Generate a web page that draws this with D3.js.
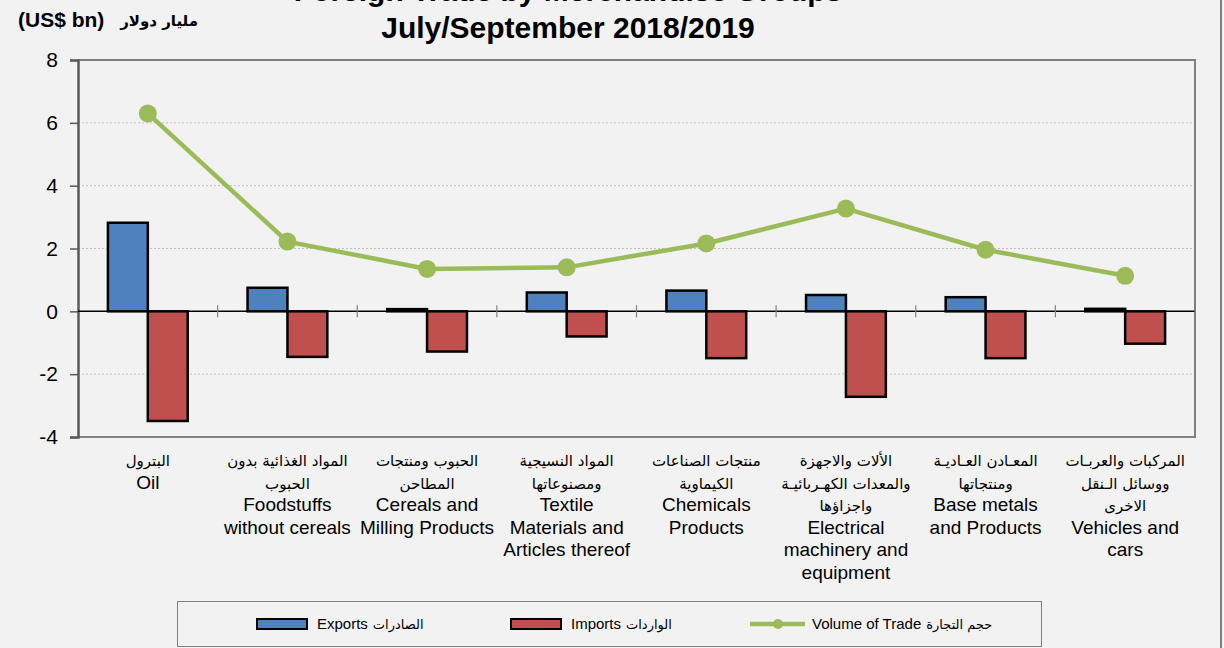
<!DOCTYPE html>
<html>
<head>
<meta charset="utf-8">
<script src="https://cdn.jsdelivr.net/npm/d3@7"></script>
<style>
  html, body { margin: 0; padding: 0; background: #f2f2f2; }
  svg { display: block; font-family: "Liberation Sans", Arial, "DejaVu Sans", sans-serif; }
</style>
</head>
<body>
<svg width="1224" height="648"></svg>
<script>
// data (US$ bn)
var categoriesAr = [
    ["البترول"],
    ["المواد الغذائية بدون", "الحبوب"],
    ["الحبوب ومنتجات", "المطاحن"],
    ["المواد النسيجية", "ومصنوعاتها"],
    ["منتجات الصناعات", "الكيماوية"],
    ["الألات والاجهزة", "والمعدات الكهـربائيـة", "واجزاؤها"],
    ["المعـادن العـاديـة", "ومنتجاتها"],
    ["المركبات والعربـات", "ووسائل الـنقل", "الاخرى"]
];
var categoriesEn = [
    ["Oil"],
    ["Foodstuffs", "without cereals"],
    ["Cereals and", "Milling Products"],
    ["Textile", "Materials and", "Articles thereof"],
    ["Chemicals", "Products"],
    ["Electrical", "machinery and", "equipment"],
    ["Base metals", "and Products"],
    ["Vehicles and", "cars"]
];
var exportsVals = [2.82, 0.75, 0.07, 0.60, 0.66, 0.52, 0.45, 0.08];
var importsVals = [-3.49, -1.45, -1.28, -0.80, -1.49, -2.72, -1.49, -1.03];
var tradeVals = [6.30, 2.22, 1.35, 1.40, 2.16, 3.27, 1.96, 1.13];
var yTicks = [-4, -2, 0, 2, 4, 6, 8];

var svg = d3.select("svg");
var plotL = 78, plotR = 1195, plotT = 60, plotB = 437;

var idx = d3.range(categoriesEn.length);
var x = d3.scaleBand().domain(idx).range([plotL, plotR]).padding(0);
var x1 = d3.scaleBand().domain(["exp", "imp"]).range([0, x.bandwidth()]).paddingInner(0).paddingOuter(0.75);
var y = d3.scaleLinear().domain([-4, 8]).range([plotB, plotT]);

// outer chart edge on the right
svg.append("line").attr("x1", 1221).attr("x2", 1221).attr("y1", 0).attr("y2", 648)
    .attr("stroke", "#7f7f7f").attr("stroke-width", 2);

// titles (first line is cut by the top edge, as in the original)
svg.append("text").attr("x", 568).attr("y", 1).attr("text-anchor", "middle")
    .style("font-weight", "bold").style("font-size", "30px").text("Foreign Trade by Merchandise Groups");
svg.append("text").attr("x", 568).attr("y", 38).attr("text-anchor", "middle")
    .style("font-weight", "bold").style("font-size", "30px").text("July/September 2018/2019");
svg.append("text").attr("x", 18).attr("y", 27)
    .style("font-weight", "bold").style("font-size", "21px").text("(US$ bn)");
svg.append("text").attr("x", 198).attr("y", 26).attr("text-anchor", "end")
    .style("font-weight", "bold").style("font-size", "15px")
    .style("font-family", "'DejaVu Sans', sans-serif").text("مليار دولار");

// grid lines
svg.append("g").selectAll("line")
    .data(yTicks.filter(function (d) { return d !== 0 && d !== 8 && d !== -4; }))
    .enter().append("line")
    .attr("x1", plotL).attr("x2", plotR)
    .attr("y1", function (d) { return y(d); }).attr("y2", function (d) { return y(d); })
    .attr("stroke", "#bfbfbf").attr("stroke-dasharray", "2,2").attr("stroke-width", 1);

// plot border top / right / bottom
svg.append("path")
    .attr("d", "M" + plotL + "," + plotT + "H" + plotR + "V" + plotB + "H" + plotL)
    .attr("fill", "none").attr("stroke", "#808080").attr("stroke-width", 2);

// y axis
var yAxis = svg.append("g").attr("transform", "translate(" + plotL + ",0)")
    .call(d3.axisLeft(y).tickValues(yTicks).tickSize(8).tickPadding(12)
        .tickFormat(function (d) { return String(d); }));
yAxis.select(".domain").attr("stroke", "#595959").attr("stroke-width", 2.5);
yAxis.selectAll(".tick line").attr("stroke", "#595959").attr("stroke-width", 1.5);
yAxis.selectAll("text").style("font-size", "21px").style("font-family", "Liberation Sans, Arial, sans-serif").attr("fill", "#000");

// bars
var groups = svg.append("g").selectAll("g").data(idx).enter().append("g")
    .attr("transform", function (i) { return "translate(" + x(i) + ",0)"; });
groups.append("rect")
    .attr("x", x1("exp")).attr("width", x1.bandwidth())
    .attr("y", function (i) { return y(Math.max(0, exportsVals[i])); })
    .attr("height", function (i) { return Math.abs(y(exportsVals[i]) - y(0)); })
    .attr("fill", "#4f81bd").attr("stroke", "#000").attr("stroke-width", 2.5);
groups.append("rect")
    .attr("x", x1("imp")).attr("width", x1.bandwidth())
    .attr("y", function (i) { return y(Math.max(0, importsVals[i])); })
    .attr("height", function (i) { return Math.abs(y(importsVals[i]) - y(0)); })
    .attr("fill", "#c0504d").attr("stroke", "#000").attr("stroke-width", 2.5);

// zero line with category ticks
svg.append("line").attr("x1", plotL).attr("x2", plotR).attr("y1", y(0)).attr("y2", y(0))
    .attr("stroke", "#000").attr("stroke-width", 1.5);
svg.append("g").selectAll("line").data(idx.slice(1).concat([idx.length])).enter().append("line")
    .attr("x1", function (i) { return plotL + i * x.step(); })
    .attr("x2", function (i) { return plotL + i * x.step(); })
    .attr("y1", y(0) - 6).attr("y2", y(0) + 6)
    .attr("stroke", "#808080").attr("stroke-width", 1.2);

// volume of trade line
var line = d3.line()
    .x(function (i) { return x(i) + x.bandwidth() / 2; })
    .y(function (i) { return y(tradeVals[i]); });
svg.append("path").datum(idx).attr("d", line)
    .attr("fill", "none").attr("stroke", "#9bbb59").attr("stroke-width", 4.5).attr("stroke-linejoin", "round");
svg.append("g").selectAll("circle").data(idx).enter().append("circle")
    .attr("cx", function (i) { return x(i) + x.bandwidth() / 2; })
    .attr("cy", function (i) { return y(tradeVals[i]); })
    .attr("r", 9).attr("fill", "#9bbb59");

// category labels (arabic lines then english lines)
var labels = svg.append("g").selectAll("text").data(idx).enter().append("text")
    .attr("text-anchor", "middle")
    .attr("transform", function (i) { return "translate(" + (x(i) + x.bandwidth() / 2) + ",0)"; });
labels.each(function (i) {
    var t = d3.select(this);
    var lines = categoriesAr[i].map(function (s) { return { s: s, ar: true }; })
        .concat(categoriesEn[i].map(function (s) { return { s: s, ar: false }; }));
    lines.forEach(function (l, k) {
        t.append("tspan").attr("x", 0).attr("y", 466 + k * 22.5)
            .style("font-size", l.ar ? "15px" : "19px")
            .style("font-family", l.ar ? "'DejaVu Sans', sans-serif" : "'Liberation Sans', Arial, sans-serif")
            .text(l.s);
    });
});

// legend
var legend = svg.append("g");
legend.append("rect").attr("x", 177.5).attr("y", 601.5).attr("width", 864).attr("height", 45)
    .attr("fill", "#f2f2f2").attr("stroke", "#808080").attr("stroke-width", 1);
var legendItems = [
    { en: "Exports", ar: "الصادرات", color: "#4f81bd", kind: "bar", x: 257 },
    { en: "Imports", ar: "الواردات", color: "#c0504d", kind: "bar", x: 511 },
    { en: "Volume of Trade", ar: "حجم التجارة", color: "#9bbb59", kind: "line", x: 750 }
];
legendItems.forEach(function (d) {
    if (d.kind === "bar") {
        legend.append("rect").attr("x", d.x).attr("y", 619).attr("width", 50).attr("height", 10)
            .attr("fill", d.color).attr("stroke", "#000").attr("stroke-width", 2);
    } else {
        legend.append("line").attr("x1", d.x).attr("x2", d.x + 55).attr("y1", 624).attr("y2", 624)
            .attr("stroke", d.color).attr("stroke-width", 4.5);
        legend.append("circle").attr("cx", d.x + 28).attr("cy", 624).attr("r", 5).attr("fill", d.color);
    }
    var tx = d.x + (d.kind === "bar" ? 60 : 62);
    var en = legend.append("text").attr("x", tx).attr("y", 629)
        .style("font-size", "15px").text(d.en);
    var w = en.node().getComputedTextLength();
    legend.append("text").attr("x", tx + w + 5).attr("y", 629)
        .style("font-size", "13px").style("font-family", "'DejaVu Sans', sans-serif").text(d.ar);
});
</script>
</body>
</html>
